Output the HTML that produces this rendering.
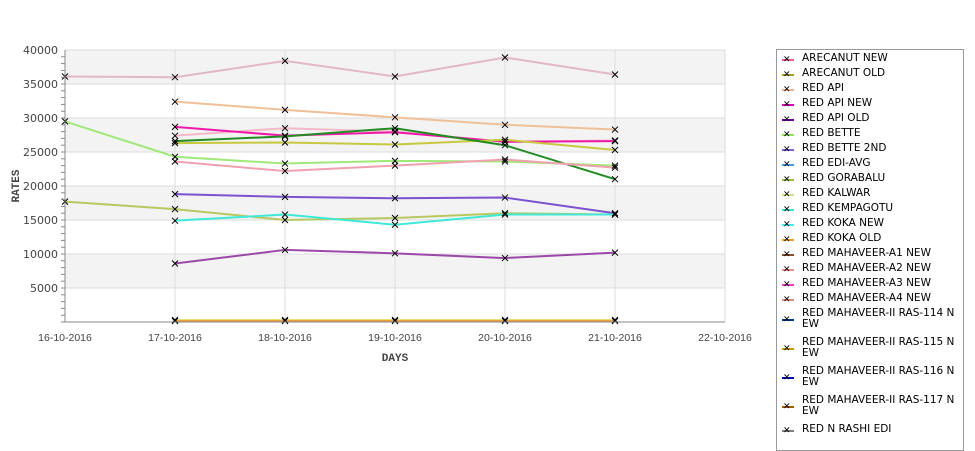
<!DOCTYPE html>
<html><head><meta charset="utf-8">
<style>
html,body{margin:0;padding:0;background:#fff;width:975px;height:429px;overflow:hidden;font-family:"DejaVu Sans","Liberation Sans",sans-serif;}
#legend{position:absolute;left:776px;top:49px;width:186px;height:400px;border:1px solid #999;background:#fff;font-size:10.5px;color:#000;}
.li{position:absolute;left:0;width:186px;}
.li .sw{position:absolute;left:5px;width:12px;height:2px;}
.li .mk{position:absolute;left:6px;font-size:9px;line-height:10px;}
.li .tx{position:absolute;left:25px;line-height:11px;width:160px;}
</style></head>
<body>
<svg id="chart" width="975" height="429" style="position:absolute;left:0;top:0">
<g id="bands"></g><g id="grid"></g><g id="series"></g><g id="axes"></g>
<text x="19" y="186" transform="rotate(-90 19 186)" text-anchor="middle" font-size="11" font-weight="bold" fill="#444" font-family="Liberation Mono, monospace">RATES</text>
<text x="395" y="361" text-anchor="middle" font-size="11" font-weight="bold" fill="#444" font-family="Liberation Mono, monospace">DAYS</text>
</svg>
<div id="legend"></div>
<script>
const xLabels = ["16-10-2016","17-10-2016","18-10-2016","19-10-2016","20-10-2016","21-10-2016","22-10-2016"];
const yTicks = [5000,10000,15000,20000,25000,30000,35000,40000];
const sMauve = [36100,36000,38400,36100,38900,36400];
const sPeach = [null,32400,31200,30100,29000,28300];
const sMagenta = [null,28700,27400,27900,26500,26600];
const sLightPink = [null,27400,28500,28000,26500,26700];
const sGreen = [null,26600,27300,28500,26000,21000];
const sOlive = [null,26300,26400,26100,26800,25300];
const sLightGreen = [29500,24300,23300,23700,23600,23000];
const sPink = [null,23600,22200,23000,23900,22700];
const sBlue = [null,18800,18400,18200,18300,16000];
const sYellowGreen = [17700,16600,15000,15300,16000,15800];
const sCyan = [null,14900,15800,14300,15800,15800];
const sPurple = [null,8600,10600,10100,9400,10200];
const sYellowLow = [null,300,300,300,300,300];
const sOrangeLow = [null,150,150,150,150,150];
const seriesList = [
 ["mauve",sMauve,"#e0b8c8"],["peach",sPeach,"#f0c098"],["light-pink",sLightPink,"#f4b8c8"],
 ["magenta",sMagenta,"#f018a8"],["olive",sOlive,"#c8c840"],["green",sGreen,"#228b22"],
 ["light-green",sLightGreen,"#a0e878"],["pink",sPink,"#f0a0b0"],["blue",sBlue,"#7b52d0"],
 ["yellow-green",sYellowGreen,"#b8c860"],["cyan",sCyan,"#40e8d8"],["purple",sPurple,"#9c48a8"],
 ["yellow-low",sYellowLow,"#e8e070"],["orange-low",sOrangeLow,"#e8a040"]];
const legendNames = ["ARECANUT NEW","ARECANUT OLD","RED API","RED API NEW","RED API OLD","RED BETTE","RED BETTE 2ND","RED EDI-AVG","RED GORABALU","RED KALWAR","RED KEMPAGOTU","RED KOKA NEW","RED KOKA OLD","RED MAHAVEER-A1 NEW","RED MAHAVEER-A2 NEW","RED MAHAVEER-A3 NEW","RED MAHAVEER-A4 NEW","RED MAHAVEER-II RAS-114 NEW","RED MAHAVEER-II RAS-115 NEW","RED MAHAVEER-II RAS-116 NEW","RED MAHAVEER-II RAS-117 NEW","RED N RASHI EDI"];
const legendColors = ["#f06090","#a0a020","#f0b090","#e000c0","#7000a0","#90e060","#8060e0","#40a0f0","#a0c040","#d0e080","#40e0d0","#40e8f0","#f0a020","#905030","#f09090","#f040c0","#e09080","#004080","#c0a000","#0000c0","#a06000","#808080"];

const NS="http://www.w3.org/2000/svg";
const X0=65,DX=110,Y0=322,YTOP=50,YMAX=40000;
function xs(i){return X0+i*DX;}
function ys(v){return Y0-(v/YMAX)*(Y0-YTOP);}
function mk(tag,attrs,parent){const e=document.createElementNS(NS,tag);for(const k in attrs)e.setAttribute(k,attrs[k]);parent.appendChild(e);return e;}
const bands=document.getElementById('bands'),grid=document.getElementById('grid'),ser=document.getElementById('series'),axes=document.getElementById('axes');
const PX1=xs(6);
for(let v=5000;v<YMAX;v+=10000){
 const r=mk('rect',{x:X0,y:ys(v+5000),width:PX1-X0,height:ys(v)-ys(v+5000),fill:'#f3f3f3'},bands);
 
 
}
yTicks.forEach(v=>{
 const l=mk('line',{x1:X0,x2:PX1,y1:ys(v),y2:ys(v),stroke:'#ddd','stroke-width':1},grid);
 
 
 const t=mk('text',{x:X0-7,y:ys(v)+4,'text-anchor':'end','font-size':11,fill:'#444'},axes);
 t.textContent=v;
 
 
});
for(let v=1000;v<YMAX;v+=1000){mk('line',{x1:X0-4,x2:X0,y1:ys(v),y2:ys(v),stroke:'#888'},axes);}
xLabels.forEach((lab,i)=>{
 if(i>0){const g=mk('line',{x1:xs(i),x2:xs(i),y1:YTOP,y2:Y0,stroke:'#ddd'},grid);
 
 }
 const t=mk('text',{x:xs(i),y:341,'text-anchor':'middle','font-size':10.5,fill:'#444','font-family':'Liberation Sans Narrow, Liberation Sans, sans-serif'},axes);
 t.textContent=lab;
 
 
});
mk('line',{x1:X0,x2:X0,y1:YTOP,y2:Y0,stroke:'#888'},axes);
mk('line',{x1:X0-4,x2:PX1,y1:Y0,y2:Y0,stroke:'#888'},axes);
mk('line',{x1:X0,x2:PX1,y1:YTOP,y2:YTOP,stroke:'#ddd'},grid);
seriesList.forEach(([nm,vals,col])=>{
 let d='';vals.forEach((v,i)=>{if(v==null)return;d+=(d?'L':'M')+xs(i)+','+ys(v);});
 const p=mk('path',{d:d,fill:'none',stroke:col,'stroke-width':2},ser);
 
 
});
seriesList.forEach(([nm,vals])=>{
 vals.forEach((v,i)=>{if(v==null)return;const x=xs(i),y=ys(v);
  const m=mk('path',{d:`M${x-3},${y-3}L${x+3},${y+3}M${x-3},${y+3}L${x+3},${y-3}`,stroke:'#000','stroke-width':1},ser);
  
  
 });
});
const lg=document.getElementById('legend');
let ly=3;
legendNames.forEach((n,i)=>{
 const two=n.length>25;
 const d=document.createElement('div');d.className='li';d.style.top=ly+'px';
 
 
 const txt=two?n.slice(0,25)+'<br>'+n.slice(25):n;
 d.innerHTML=`<div class="sw" style="top:${two?11:6}px;background:${legendColors[i]}"></div><div class="mk" style="top:${two?7:2}px">✕</div><div class="tx" style="top:0">${txt}</div>`;
 lg.appendChild(d);ly+=two?29:15;
});
</script>
</body></html>
